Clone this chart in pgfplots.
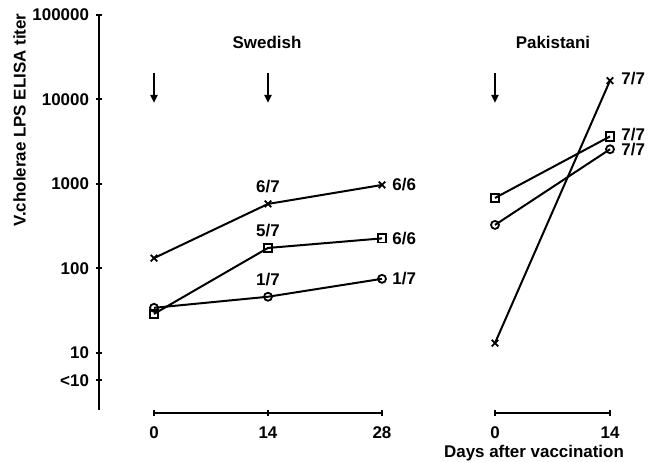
\documentclass[border=0pt]{standalone}
\usepackage{fontspec}
\setmainfont{Liberation Sans}
\usepackage{pgfplots}
\pgfplotsset{compat=1.18}
\usetikzlibrary{arrows.meta}

\pgfplotsset{
  /pgfplots/myaxbase/.style={
    scale only axis, ymax=1e5, clip=false,
    major tick length=3bp, minor tick length=0pt,
    tick align=outside,
    tick style={line width=1bp, black},
    ticklabel style={font=\fontsize{8.5}{10}\selectfont\bfseries},
    /pgf/number format/assume math mode=true,
    yminorticks=false,
  },
  /pgfplots/noarrows/.style={
    every outer x axis line/.append style={-},
    every outer y axis line/.append style={-},
    every inner x axis line/.append style={-},
    every inner y axis line/.append style={-},
    axis line style={line width=1bp, -},
  },
}
\tikzset{mydat/.style={black, line width=1bp, mark options={solid, line width=0.9bp}}}

\begin{document}
\begin{tikzpicture}[font=\fontsize{8.5}{10}\selectfont\bfseries]
\useasboundingbox (0,0) rectangle (324bp,-231bp);

% left y axis
\begin{semilogyaxis}[myaxbase,
  at={(49.5bp,-205bp)}, anchor=south west,
  width=1bp, height=197.5bp,
  xmin=0, xmax=1, ymin=2.094,
  axis y line=left, axis x line=none,
  ytick={4.7,10,100,1000,10000,100000},
  yticklabels={{<10},10,100,1000,10000,100000},
  noarrows,
]
\addplot[draw=none] coordinates {(0.5,100)};
\end{semilogyaxis}

% Swedish
\begin{semilogyaxis}[myaxbase,
  at={(77bp,-206.5bp)}, anchor=south west,
  width=114bp, height=199bp,
  xmin=0, xmax=28, ymin=1.93,
  axis x line=bottom, axis y line=none,
  xtick={0,14,28},
  xticklabel style={yshift=-2bp},
  noarrows,
]
\addplot[mydat, mark=x, mark size=2.3bp] coordinates {(0,132) (14,578) (28,970)};
\addplot[mydat, mark=square, mark size=2.1bp] coordinates {(0,28.8) (14,174) (28,226)};
\addplot[mydat, mark=o, mark size=2bp] coordinates {(0,34) (14,46) (28,75)};
\draw[line width=1bp, -{Triangle[length=4bp,width=3.5bp]}] (axis cs:0,20600) -- (axis cs:0,9080);
\draw[line width=1bp, -{Triangle[length=4bp,width=3.5bp]}] (axis cs:14,20600) -- (axis cs:14,9080);
\node[anchor=center, yshift=8.5bp] at (axis cs:14,578) {6/7};
\node[anchor=center, yshift=8.5bp] at (axis cs:14,174) {5/7};
\node[anchor=center, yshift=8.5bp] at (axis cs:14,46) {1/7};
\node[anchor=west, inner sep=0pt, xshift=5bp] at (axis cs:28,970) {6/6};
\node[anchor=west, inner sep=0pt, xshift=5bp] at (axis cs:28,226) {6/6};
\node[anchor=west, inner sep=0pt, xshift=5bp] at (axis cs:28,75) {1/7};
\end{semilogyaxis}

% Pakistani
\begin{semilogyaxis}[myaxbase,
  at={(247.5bp,-206.5bp)}, anchor=south west,
  width=57.5bp, height=199bp,
  xmin=0, xmax=14, ymin=1.93,
  axis x line=bottom, axis y line=none,
  xtick={0,14},
  xticklabel style={yshift=-2bp},
  noarrows,
]
\addplot[mydat, mark=x, mark size=2.3bp] coordinates {(0,13) (14,16700)};
\addplot[mydat, mark=square, mark size=2.1bp] coordinates {(0,681) (14,3645)};
\addplot[mydat, mark=o, mark size=2bp] coordinates {(0,326) (14,2570)};
\draw[line width=1bp, -{Triangle[length=4bp,width=3.5bp]}] (axis cs:0,20600) -- (axis cs:0,9080);
\node[anchor=west, inner sep=0pt, xshift=5.5bp] at (axis cs:14,17500) {7/7};
\node[anchor=west, inner sep=0pt, xshift=5.5bp] at (axis cs:14,3800) {7/7};
\node[anchor=west, inner sep=0pt, xshift=5.5bp] at (axis cs:14,2550) {7/7};
\end{semilogyaxis}

\node at (133.5bp,-21bp) {Swedish};
\node at (276.5bp,-21bp) {Pakistani};
\node at (267bp,-226.5bp) {Days after vaccination};
\node[rotate=90] at (9.75bp,-60bp) {V.cholerae LPS ELISA titer};
\end{tikzpicture}
\end{document}
